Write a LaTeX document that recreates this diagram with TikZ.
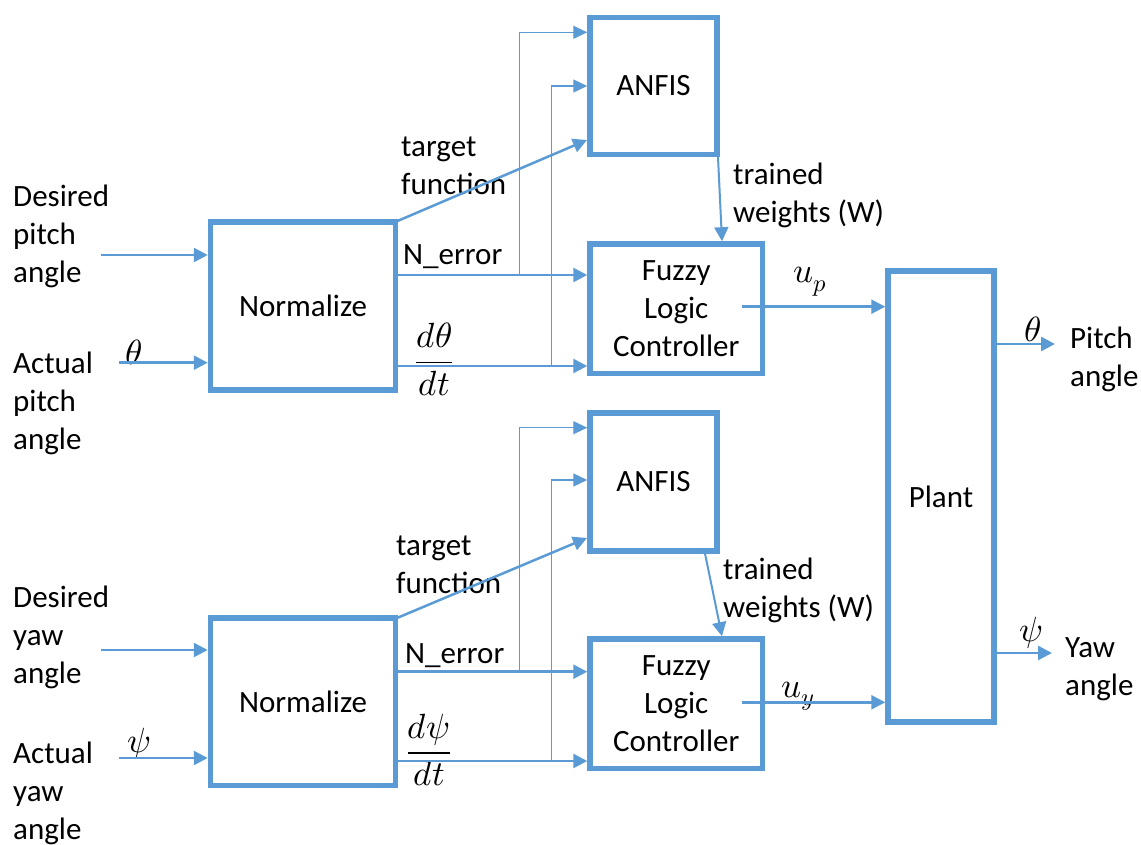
\documentclass[tikz,border=0pt]{standalone}
\usepackage{fontspec}
\usepackage{unicode-math}
\setmainfont{Carlito}
\usetikzlibrary{arrows.meta}
\definecolor{bl}{RGB}{91,155,213}
\newcommand{\figfont}{\fontsize{31}{38}\selectfont}
\newcommand{\mathfig}{\fontsize{35}{42}\selectfont}
\begin{document}
\begin{tikzpicture}[x=1pt,y=-1pt,
  box/.style={draw=bl, line width=5.5pt, inner sep=0pt, align=center, font=\figfont},
  arr/.style={draw=bl, line width=2.5pt, -{Triangle[length=14pt,width=14pt]}},
  thinarr/.style={draw=bl, line width=1.3pt, -{Triangle[length=14pt,width=13pt]}},
  txt/.style={inner sep=0pt, align=left, font=\figfont, anchor=base west},
  mtxt/.style={inner sep=0pt, font=\mathfig, anchor=base west},
  mth/.style={inner sep=0pt, font=\mathfig}]
\useasboundingbox (0,0) rectangle (1141,845);
\fill[white] (0,0) rectangle (1141,845);

% ---------- boxes ----------
\node[box, minimum width=185pt, minimum height=168pt] (norm1) at (303,306) {Normalize};
\node[box, minimum width=127pt, minimum height=137pt] (anfis1) at (653.5,86) {ANFIS};
\node[box, minimum width=172.5pt, minimum height=129.5pt] (flc1) at (676.25,308.75) {Fuzzy\\Logic\\Controller};
\node[box, minimum width=106pt, minimum height=451pt] (plant) at (941,496.5) {Plant};
\node[box, minimum width=185pt, minimum height=167.5pt] (norm2) at (303,701.75) {Normalize};
\node[box, minimum width=127pt, minimum height=138pt] (anfis2) at (653.5,482) {ANFIS};
\node[box, minimum width=172.5pt, minimum height=129.5pt] (flc2) at (676.25,703.75) {Fuzzy\\Logic\\Controller};

% ---------- labels (anchor = baseline of last line) ----------
\node[txt] (l1) at (13,283) {Desired\\pitch\\angle};
\node[txt] (l2) at (13,449) {Actual\\pitch\\angle};
\node[txt] (l3) at (13,683) {Desired\\yaw\\angle};
\node[txt] (l4) at (13,839) {Actual\\yaw\\angle};
\node[txt] (tf1) at (401,195) {target\\function};
\node[txt] (tf2) at (396,593) {target\\function};
\node[txt] (ne1) at (403,265) {N\_error};
\node[txt] (ne2) at (405,663) {N\_error};
\node[txt] (tw1) at (733,223) {trained\\weights (W)};
\node[txt] (tw2) at (723,617) {trained\\weights (W)};
\node[mtxt] (up) at (793,283) {$u_p$};
\node[mtxt] (uy) at (781,697) {$u_y$};
\node[mtxt] (th1) at (125,364) {$\theta$};
\node[mtxt] (ps1) at (127,752) {$\psi$};
\node[mtxt] (th2) at (1024,341) {$\theta$};
\node[mtxt] (ps2) at (1019,641) {$\psi$};
\node[txt] (pa) at (1070,386) {Pitch\\angle};
\node[txt] (ya) at (1065,695) {Yaw\\angle};
\node[mth] (dth) at (434,359) {$\dfrac{d\theta}{dt}$};
\node[mth] (dps) at (429,750) {$\dfrac{d\psi}{dt}$};

% ---------- coordinates ----------
\coordinate (din1) at (101,255);
\coordinate (ain1) at (119,362.7);
\coordinate (din2) at (101,650);
\coordinate (ain2) at (119,758);
\coordinate (ne1s) at (395.5,275);
\coordinate (dt1s) at (395.5,366);
\coordinate (ne2s) at (395.5,671.7);
\coordinate (dt2s) at (395.5,761);
\coordinate (b1) at (519.3,275);
\coordinate (b1t) at (519.3,32.3);
\coordinate (b2) at (551.7,366);
\coordinate (b2t) at (551.7,86);
\coordinate (b3) at (519.3,671.7);
\coordinate (b3t) at (519.3,427.7);
\coordinate (b4) at (551.7,761);
\coordinate (b4t) at (551.7,480);
\coordinate (tf1s) at (397.5,221);
\coordinate (tf1e) at (587,140);
\coordinate (tf2s) at (397,618);
\coordinate (tf2e) at (587,538);
\coordinate (tw1s) at (718,157);
\coordinate (tw1e) at (722,241.2);
\coordinate (tw2s) at (705,553.5);
\coordinate (tw2e) at (722,636.2);
\coordinate (up1) at (742,306.7);
\coordinate (uy1) at (742,702.3);
\coordinate (tho) at (1055,344);
\coordinate (pso) at (1052,653);

% ---------- connectors ----------
\draw[arr] (din1) -- (din1 -| norm1.west);
\draw[arr] (ain1) -- (ain1 -| norm1.west);
\draw[arr] (din2) -- (din2 -| norm2.west);
\draw[arr] (ain2) -- (ain2 -| norm2.west);

\draw[arr] (ne1s) -- (ne1s -| flc1.west);
\draw[arr] (dt1s) -- (dt1s -| flc1.west);
\draw[arr] (ne2s) -- (ne2s -| flc2.west);
\draw[arr] (dt2s) -- (dt2s -| flc2.west);

\draw[thinarr] (b1) -- (b1t) -- (b1t -| anfis1.west);
\draw[thinarr] (b2) -- (b2t) -- (b2t -| anfis1.west);
\draw[thinarr] (b3) -- (b3t) -- (b3t -| anfis2.west);
\draw[thinarr] (b4) -- (b4t) -- (b4t -| anfis2.west);

\draw[arr] (tf1s) -- (tf1e);
\draw[arr] (tf2s) -- (tf2e);
\draw[arr, line width=2pt] (tw1s) -- (tw1e);
\draw[arr, line width=2pt] (tw2s) -- (tw2e);

\draw[arr] (up1) -- (up1 -| plant.west);
\draw[arr] (uy1) -- (uy1 -| plant.west);
\draw[arr] (plant.east |- tho) -- (tho);
\draw[arr] (plant.east |- pso) -- (pso);
\end{tikzpicture}
\end{document}
